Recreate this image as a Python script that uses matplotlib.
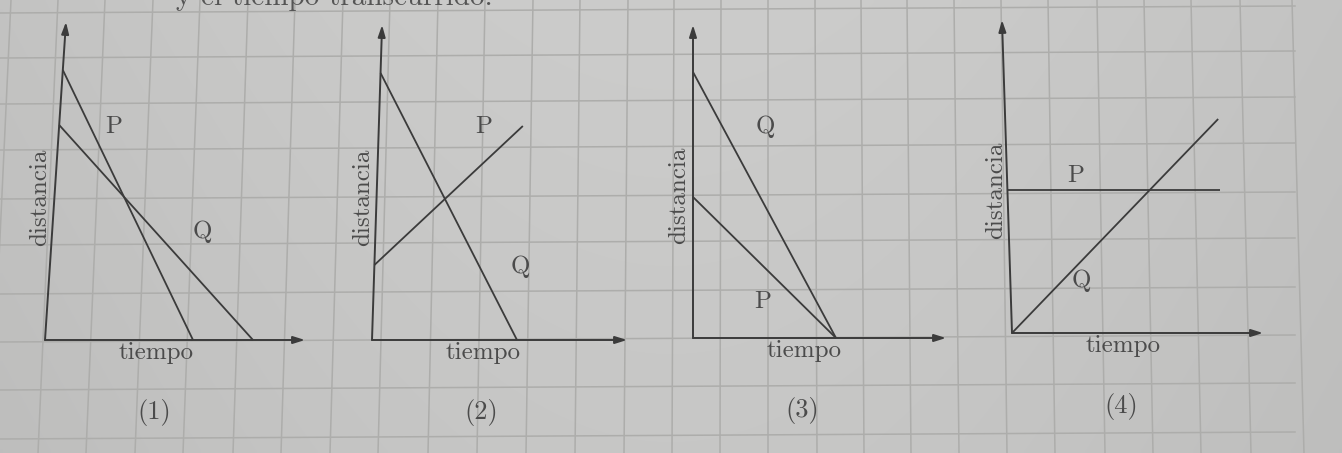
#!/usr/bin/env python3
"""Four distance-time sketches (P and Q) on graph paper, redrawn from a textbook photo.

Each panel gets its own axes; 1 unit = 10 px of the reference picture.
The photo is slightly skewed, so each panel's vertical direction leans a bit.
"""

import numpy as np
import matplotlib
matplotlib.use("Agg")
import matplotlib.pyplot as plt
from matplotlib.patches import FancyArrowPatch
from matplotlib.transforms import Affine2D

W, H = 1342, 453

# ---- panel layout --------------------------------------------------------
panel_names = ["(1)", "(2)", "(3)", "(4)"]
origins_px = [(45, 340), (372, 340), (693, 338), (1012, 333)]
axis_len = [(26.0, 31.8), (25.5, 31.5), (25.3, 31.3), (25.1, 31.3)]
lean = [0.066, 0.032, 0.0, -0.032]

# ---- the two lines per panel (tiempo, distancia) --------------------------
p_t = [[0, 14.8], [0, 14.4], [0, 14.3], [0, 21.3]]
p_d = [[27.0, 0], [7.5, 21.4], [14.1, 0], [14.3, 14.3]]
q_t = [[0, 20.8], [0, 14.5], [0, 14.3], [0, 21.3]]
q_d = [[21.5, 0], [26.7, 0], [26.6, 0], [0, 21.4]]
p_label = [(5.5, 21.3), (10.5, 21.3), (7.0, 3.6), (6.9, 15.7)]
q_label = [(15.0, 10.8), (14.6, 7.3), (7.2, 21.1), (7.1, 5.2)]
ylabel_x = [-1.45, -1.4, -1.4, -1.1]

# ---- graph paper rules (pixels) -------------------------------------------
# vertical rules: x at the top edge and x at the bottom edge (photo perspective)
grid_x_top = [11, 58, 105, 153, 200, 248, 295, 343, 390, 438, 485, 533, 580,
              628, 674, 721, 768, 815, 861, 907, 954, 1001, 1048, 1097, 1144,
              1191, 1240, 1292]
grid_x_bot = [-10, 38, 86, 135, 183, 233, 281, 330, 378, 428, 477, 526, 575,
              624, 672, 720, 768, 817, 864, 911, 959, 1007, 1055, 1105, 1153,
              1201, 1251, 1304]
# horizontal rules: y at the left edge and y where the ruled area stops
grid_y_left = [13, 58, 104, 150, 199, 245, 294, 342, 390, 439]
grid_y_right = [6, 51, 97, 143, 192, 238, 287, 335, 383, 432]
grid_right = 1295

INK = "#3b3b3b"
TEXT = "#4b4b4b"
RULE = "#adadab"
FONT = "cmr10"

fig = plt.figure(figsize=(W / 100, H / 100), dpi=100)

# paper background
bg = fig.add_axes([0, 0, 1, 1])
bg.axis("off")
gx = np.linspace(0, 1, 300)
gy = np.linspace(0, 1, 100)
shade = 0.765 + 0.035 * np.sin(np.pi * gx)[None, :] - 0.02 * gy[:, None]
bg.imshow(np.dstack([shade, shade, shade * 0.995]), extent=(0, W, H, 0),
          aspect="auto", interpolation="bilinear")
for xt, xb in zip(grid_x_top, grid_x_bot):
    bg.plot([xt, xb], [0, H], color=RULE, lw=1.1)
for yl, yr in zip(grid_y_left, grid_y_right):
    bg.plot([0, grid_right], [yl, yr], color=RULE, lw=1.1)
bg.set_xlim(0, W)
bg.set_ylim(H, 0)

# cut-off sentence at the top of the page
bg.text(176, 5, "y el tiempo transcurrido:", family=FONT, fontsize=21,
        color="#555555", va="baseline", ha="left")

for i, name in enumerate(panel_names):
    ox, oy = origins_px[i]
    lx, ly = axis_len[i]
    ax = fig.add_axes([ox / W, (H - oy) / H, lx * 10 / W, ly * 10 / H])
    ax.set_xlim(0, lx)
    ax.set_ylim(0, ly)
    ax.axis("off")
    ax.patch.set_alpha(0)

    # lean the vertical direction around the origin like the photo does
    dx, dy = ax.transAxes.transform((0, 0))
    tr = ax.transData + (Affine2D().translate(-dx, -dy)
                         .skew(np.arctan(lean[i]), 0).translate(dx, dy))

    for start, end in [((0, 0), (lx, 0)), ((0, 0), (0, ly))]:
        ax.add_patch(FancyArrowPatch(
            start, end, transform=tr, arrowstyle="-|>,head_length=0.7,head_width=0.22",
            mutation_scale=10, shrinkA=0, shrinkB=0, color=INK, lw=1.4,
            clip_on=False))

    ax.plot(p_t[i], p_d[i], color=INK, lw=1.3, transform=tr, clip_on=False,
            solid_capstyle="butt")
    ax.plot(q_t[i], q_d[i], color=INK, lw=1.3, transform=tr, clip_on=False,
            solid_capstyle="butt")

    ax.text(*p_label[i], "P", transform=tr, family=FONT, fontsize=18,
            color=TEXT, ha="center", va="center")
    ax.text(*q_label[i], "Q", transform=tr, family=FONT, fontsize=18,
            color=TEXT, ha="center", va="center")
    ax.text(ylabel_x[i], 14.3, "distancia", transform=tr, family=FONT,
            fontsize=18, color=TEXT, rotation=90, ha="center", va="center")
    ax.text(11.1, -1.3, "tiempo", family=FONT, fontsize=18, color=TEXT,
            ha="center", va="center", clip_on=False)
    ax.text(10.9, -7.3, name, family=FONT, fontsize=19, color=TEXT,
            ha="center", va="center", clip_on=False)

fig.savefig("out.png", dpi=100)
